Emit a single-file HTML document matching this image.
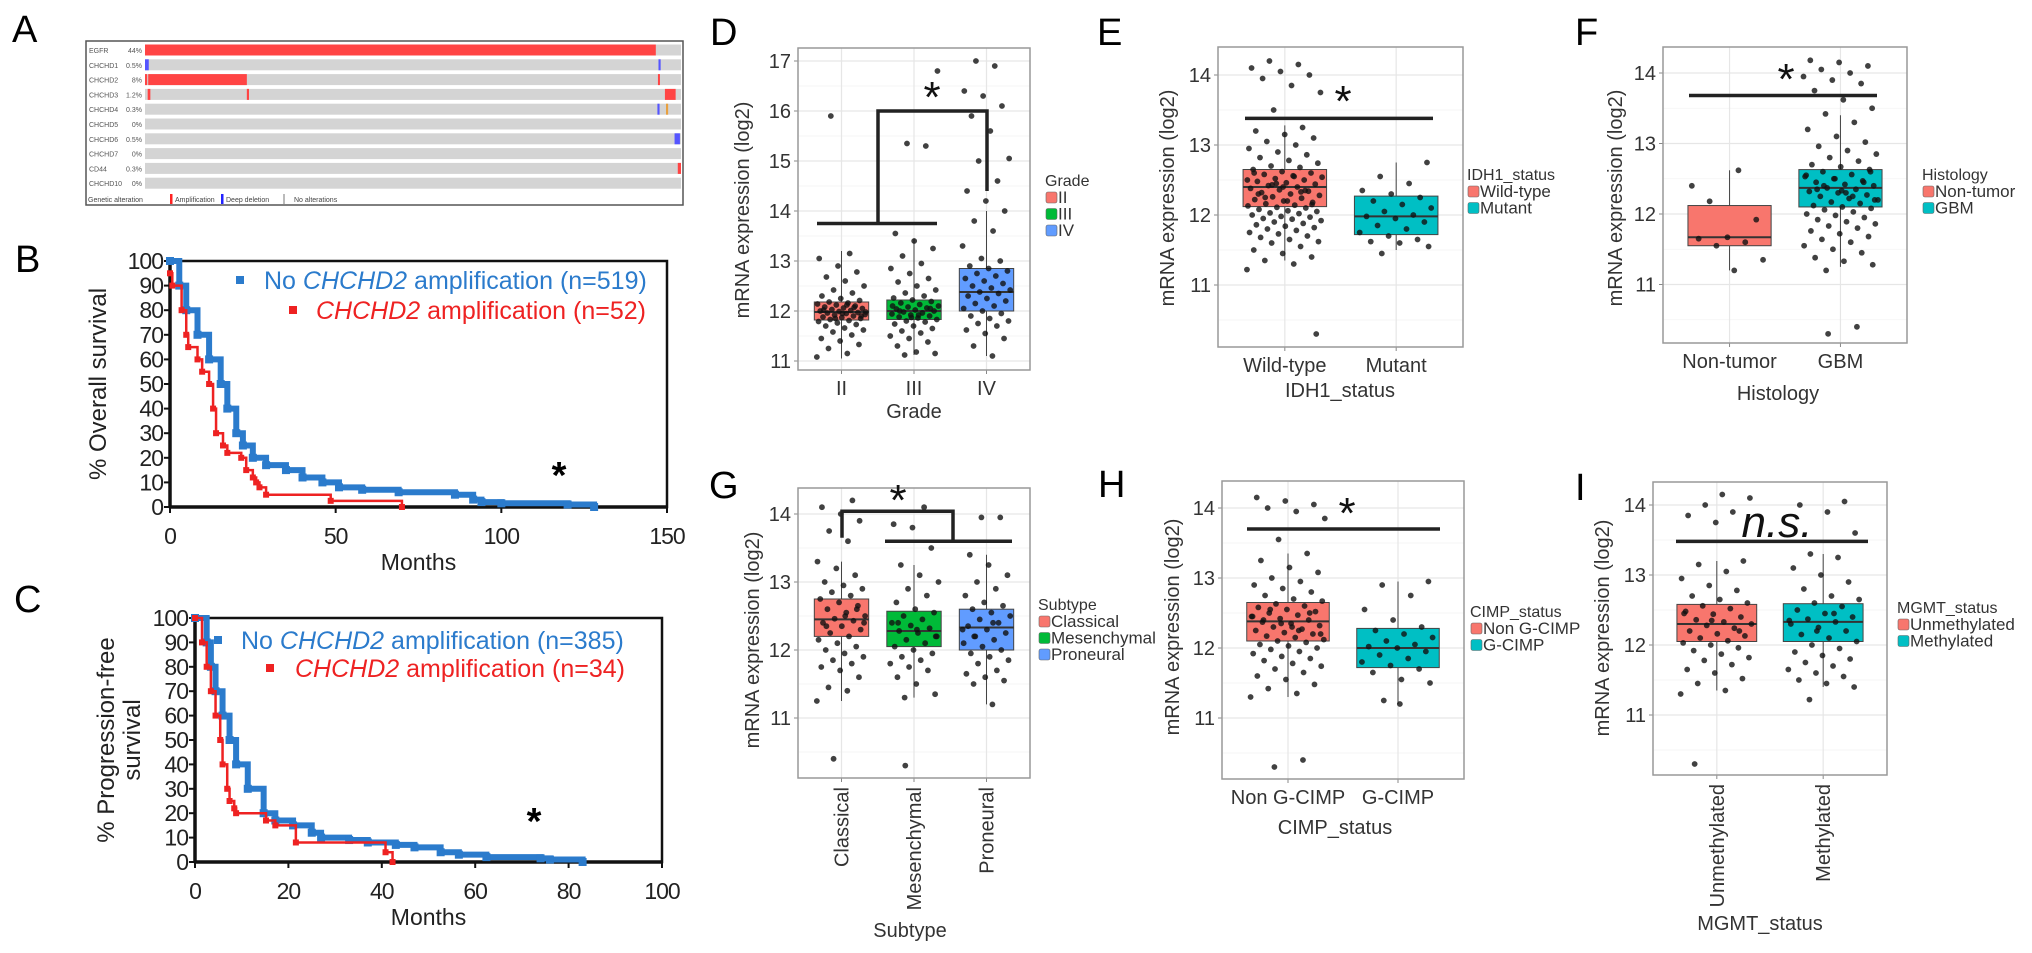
<!DOCTYPE html>
<html><head><meta charset="utf-8"><title>CHCHD2 figure</title>
<style>
html,body{margin:0;padding:0;background:#fff;}
svg{display:block;font-family:"Liberation Sans",sans-serif;}
</style></head>
<body>
<svg id="fig" width="2032" height="953" viewBox="0 0 2032 953" xmlns="http://www.w3.org/2000/svg"></svg>
<script>
// ---------- Panel A data ----------
const aGenes=['EGFR','CHCHD1','CHCHD2','CHCHD3','CHCHD4','CHCHD5','CHCHD6','CHCHD7','CD44','CHCHD10'];
const aPct=['44%','0.5%','8%','1.2%','0.3%','0%','0.5%','0%','0.3%','0%'];
const aAlt=[[[0,0.953,'amp']],[[0,0.007,'del'],[0.958,0.962,'del']],[[0,0.004,'amp'],[0.006,0.19,'amp'],[0.957,0.96,'amp']],[[0.005,0.01,'amp'],[0.19,0.194,'amp'],[0.97,0.99,'amp']],[[0.956,0.96,'del'],[0.972,0.976,'oth']],[],[[0.988,0.998,'del']],[],[[0.994,1,'amp']],[]];
// ---------- KM data ----------
const bBlueM=[0,2.8,4.9,8.3,11.8,15.3,17.3,20,22,25,29,35,40,46,51,58,69,86,91.5,94,100,120,128];
const bBlueS=[100,90,80,70,60,50,40,30,25,20,17,15,12,10,8,7,6,5,3,2,1.5,1,0];
const bRedM=[0,0.7,3.5,4.9,5.5,8.3,9.7,11.8,13,13.9,16,17.3,21.5,23,25,26,27,29,48.5,70];
const bRedS=[95,90,80,70,65,60,55,50,40,30,25,22,20,15,12,10,8,5,2.5,0];
const cBlueM=[0,2.5,3.4,4.4,5.9,7.4,8.8,11.3,14.7,17.2,21,25,27,33,37,43,47,52.6,56.5,62.4,74,76,83];
const cBlueS=[100,90,80,70,60,50,40,30,20,17,15,12,10,9,8,7,6,4,3,2,1.5,1,0];
const cRedM=[0,1.5,2.5,3.4,4.4,5.4,5.9,6.9,7.4,8.4,8.8,15.2,17.2,21.6,40.8,42.3];
const cRedS=[100,90,80,70,60,50,40,30,25,22,20,17,15,8,4,0];
const bXTicks=[0,50,100,150];
const cXTicks=[0,20,40,60,80,100];
const kmYTicks=[0,10,20,30,40,50,60,70,80,90,100];
// ---------- Boxplot data ----------
const dCats=['II','III','IV'];
const dQ1=[11.82,11.83,12.0],dMed=[11.98,12.0,12.38],dQ3=[12.18,12.22,12.85],dLo=[11.05,11.12,11.1],dHi=[13.2,13.45,14.0];
const dPts=[[11.08,11.15,11.25,11.33,11.4,11.45,11.52,11.58,11.62,11.66,11.7,11.73,11.76,11.79,11.81,11.83,11.85,11.87,11.88,11.9,11.92,11.93,11.95,11.96,11.97,11.99,12.0,12.01,12.03,12.05,12.06,12.08,12.1,12.12,12.14,12.16,12.18,12.21,12.25,12.3,12.36,12.42,12.5,12.6,12.68,12.78,12.9,13.05,13.15,15.9,11.9,11.95,12.02,12.07,11.85,11.98,12.12],
[11.12,11.15,11.18,11.3,11.38,11.45,11.5,11.56,11.6,11.65,11.7,11.74,11.78,11.8,11.83,11.86,11.88,11.9,11.92,11.94,11.96,11.98,12.0,12.02,12.04,12.06,12.08,12.1,12.13,12.16,12.19,12.22,12.26,12.3,12.36,12.42,12.5,12.58,12.65,12.75,12.85,12.95,13.1,13.25,13.4,13.55,15.3,15.35,16.8,11.92,12.0,12.05,11.87,12.1],
[11.1,11.3,11.45,11.55,11.62,11.7,11.75,11.8,11.85,11.9,11.95,12.0,12.05,12.1,12.15,12.2,12.25,12.3,12.35,12.38,12.42,12.46,12.5,12.55,12.6,12.65,12.7,12.75,12.8,12.85,12.9,13.0,13.05,13.3,13.6,13.8,14.0,14.2,14.4,14.6,15.0,15.05,15.6,15.9,16.1,16.3,16.4,16.9,17.0]];
const eCats=['Wild-type','Mutant'];
const eQ1=[12.12,11.72],eMed=[12.4,11.98],eQ3=[12.65,12.27],eLo=[11.35,11.5],eHi=[13.28,12.75];
const ePts=[[11.22,11.3,11.35,11.4,11.45,11.5,11.55,11.6,11.62,11.65,11.68,11.7,11.73,11.75,11.78,11.8,11.82,11.84,11.86,11.88,11.9,11.92,11.94,11.95,11.97,11.98,12.0,12.02,12.03,12.05,12.06,12.08,12.1,12.11,12.13,12.14,12.16,12.18,12.2,12.22,12.24,12.26,12.28,12.3,12.32,12.34,12.36,12.38,12.4,12.42,12.44,12.46,12.48,12.5,12.52,12.54,12.56,12.58,12.6,12.62,12.65,12.68,12.7,12.74,12.78,12.82,12.86,12.9,12.95,13.0,13.05,13.1,13.15,13.2,13.25,13.5,13.75,13.85,13.95,14.0,14.05,14.1,14.15,14.2,10.3,12.2,12.3,12.35,12.45,12.5,12.55,12.25,12.15,12.4,12.6,12.33,12.43],
[11.45,11.55,11.6,11.62,11.65,11.7,11.75,11.8,11.85,11.9,11.95,11.98,12.0,12.05,12.1,12.15,12.2,12.25,12.3,12.35,12.45,12.55,12.75]];
const fCats=['Non-tumor','GBM'];
const fQ1=[11.55,12.1],fMed=[11.67,12.37],fQ3=[12.12,12.63],fLo=[11.2,11.25],fHi=[12.62,13.4];
const fPts=[[12.4,12.62,12.18,11.92,11.67,11.65,11.6,11.55,11.35,11.2],
[11.2,11.28,11.33,11.38,11.45,11.5,11.55,11.6,11.64,11.68,11.72,11.76,11.8,11.83,11.86,11.89,11.92,11.95,11.98,12.0,12.03,12.06,12.08,12.1,12.12,12.15,12.17,12.2,12.22,12.25,12.27,12.3,12.32,12.35,12.37,12.4,12.42,12.45,12.47,12.5,12.53,12.56,12.6,12.63,12.67,12.7,12.75,12.8,12.85,12.9,12.96,13.02,13.1,13.2,13.3,13.42,13.5,13.62,13.75,13.85,13.9,13.95,14.0,14.05,14.1,14.15,14.18,10.4,10.3,12.2,12.3,12.35,12.45,12.5,12.55,12.25,12.4,12.6,12.33]];
const gCats=['Classical','Mesenchymal','Proneural'];
const gQ1=[12.2,12.05,12.0],gMed=[12.45,12.28,12.33],gQ3=[12.75,12.57,12.6],gLo=[11.25,11.3,11.2],gHi=[13.3,13.25,13.4];
const gPts=[[11.25,11.4,11.45,11.6,11.7,11.75,11.8,11.85,11.9,11.95,12.0,12.05,12.1,12.15,12.2,12.25,12.3,12.35,12.4,12.43,12.46,12.5,12.55,12.6,12.65,12.7,12.75,12.8,12.85,12.9,12.95,13.0,13.1,13.2,13.3,13.6,13.75,13.9,14.0,14.1,14.2,10.4,12.4,12.5,12.35,12.6],
[11.3,11.35,11.5,11.6,11.7,11.75,11.8,11.85,11.9,11.95,12.0,12.05,12.1,12.15,12.2,12.25,12.28,12.32,12.36,12.4,12.45,12.5,12.55,12.6,12.7,12.8,12.9,13.0,13.1,13.25,13.5,13.8,13.85,14.1,10.3,12.2,12.3,12.4],
[11.2,11.5,11.55,11.6,11.65,11.7,11.8,11.85,11.9,11.95,12.0,12.05,12.1,12.15,12.2,12.25,12.3,12.35,12.4,12.45,12.5,12.55,12.6,12.65,12.7,12.8,12.9,13.0,13.1,13.25,13.4,13.95,13.95,12.3,12.4,12.2]];
const hCats=['Non G-CIMP','G-CIMP'];
const hQ1=[12.1,11.72],hMed=[12.38,12.0],hQ3=[12.65,12.28],hLo=[11.3,11.2],hHi=[13.35,12.95];
const hPts=[[11.3,11.35,11.42,11.48,11.55,11.6,11.65,11.7,11.74,11.78,11.82,11.85,11.88,11.92,11.95,11.98,12.0,12.03,12.05,12.08,12.1,12.12,12.15,12.17,12.2,12.22,12.25,12.27,12.3,12.32,12.35,12.37,12.4,12.42,12.45,12.47,12.5,12.52,12.55,12.58,12.6,12.63,12.67,12.7,12.75,12.8,12.85,12.9,12.95,13.0,13.08,13.15,13.25,13.35,13.55,13.85,13.95,14.0,14.05,14.1,14.15,10.4,10.3,12.2,12.3,12.4,12.5,12.35,12.45,12.25,12.55],
[11.25,11.5,11.55,11.65,11.7,11.75,11.8,11.85,11.9,11.95,12.0,12.02,12.05,12.1,12.15,12.2,12.25,12.3,12.4,12.55,12.75,12.9,12.95,11.2]];
const iCats=['Unmethylated','Methylated'];
const iQ1=[12.05,12.05],iMed=[12.3,12.33],iQ3=[12.58,12.59],iLo=[11.35,11.4],iHi=[13.2,13.3];
const iPts=[[11.3,11.35,11.45,11.52,11.6,11.65,11.72,11.78,11.82,11.87,11.92,11.96,12.0,12.03,12.06,12.1,12.13,12.16,12.2,12.24,12.28,12.3,12.33,12.36,12.4,12.44,12.48,12.52,12.56,12.6,12.65,12.7,12.78,12.85,12.95,13.05,13.15,13.2,13.75,13.85,13.9,14.0,14.1,14.15,10.3,12.2,12.35,12.45],
[11.22,11.4,11.45,11.5,11.55,11.6,11.65,11.7,11.75,11.8,11.85,11.9,11.95,12.0,12.05,12.1,12.15,12.2,12.25,12.3,12.33,12.37,12.4,12.45,12.5,12.55,12.6,12.65,12.7,12.8,12.9,13.0,13.1,13.25,13.3,13.6,13.9,14.0,14.05,12.2,12.35,12.45]];

const NS='http://www.w3.org/2000/svg';
const svg=document.getElementById('fig');
function mk(tag,attrs,parent){const e=document.createElementNS(NS,tag);for(const k in attrs)e.setAttribute(k,attrs[k]);(parent||svg).appendChild(e);return e;}
function txt(x,y,s,attrs,parent){const e=mk('text',Object.assign({x:x,y:y},attrs||{}),parent);e.textContent=s;return e;}

// panel letters
const letters=[['A',12,42],['B',15,272],['C',14,612],['D',710,45],['E',1097,45],['F',1575,45],['G',709,498],['H',1098,497],['I',1575,500]];
letters.forEach(L=>{const t=txt(L[1],L[2],L[0],{'font-size':38,fill:'#000'});

});

// ---------- Panel A ----------
(function(){
 const g=mk('g',{});
 
 
 const frame=mk('rect',{x:86,y:41,width:597,height:164,fill:'#fff',stroke:'#555','stroke-width':1.5},g);
 
 
 const x0=145,x1=681,w=x1-x0;
 aGenes.forEach((gname,i)=>{
  const yc=50+i*14.8;
  const row=mk('rect',{x:x0,y:yc-5.5,width:w,height:11,fill:'#d4d4d4'},g);
  
  
  const lab=txt(89,yc+3,gname,{'font-size':7,fill:'#555'},g);
  
  
  const pc=txt(142,yc+3,aPct[i],{'font-size':7,fill:'#555','text-anchor':'end'},g);
  
  
  aAlt[i].forEach(a=>{
   const col=a[2]==='amp'?'#f44':(a[2]==='del'?'#55f':'#e8a040');
   const r=mk('rect',{x:x0+a[0]*w,y:yc-5.5,width:Math.max(2,(a[1]-a[0])*w),height:11,fill:col},g);
   
   
  });
 });
 const ly=202;
 const lg=mk('g',{},g);
 
 
 txt(88,ly,'Genetic alteration',{'font-size':7,fill:'#444'},lg);
 mk('rect',{x:170,y:ly-8,width:2.5,height:10,fill:'#f22'},lg);
 txt(175,ly,'Amplification',{'font-size':7,fill:'#444'},lg);
 mk('rect',{x:221,y:ly-8,width:2.5,height:10,fill:'#22f'},lg);
 txt(226,ly,'Deep deletion',{'font-size':7,fill:'#444'},lg);
 mk('rect',{x:283,y:ly-8,width:2,height:10,fill:'#bbb'},lg);
 txt(294,ly,'No alterations',{'font-size':7,fill:'#444'},lg);
})();

// ---------- KM plots ----------
function km(cfg){
 const g=mk('g',{});
 
 
 const X=m=>cfg.l+(m-cfg.xmin)/(cfg.xmax-cfg.xmin)*(cfg.r-cfg.l);
 const Y=s=>cfg.b-s/100*(cfg.b-cfg.t);
 const box=mk('rect',{x:cfg.l,y:cfg.t,width:cfg.r-cfg.l,height:cfg.b-cfg.t,fill:'none',stroke:'#111','stroke-width':2.5},g);
 
 
 mk('line',{x1:cfg.l,y1:cfg.t,x2:cfg.l,y2:cfg.b,stroke:'#111','stroke-width':3.5},g);
 mk('line',{x1:cfg.l,y1:cfg.b,x2:cfg.r,y2:cfg.b,stroke:'#111','stroke-width':3.5},g);
 kmYTicks.forEach(v=>{
  mk('line',{x1:cfg.l-6,y1:Y(v),x2:cfg.l,y2:Y(v),stroke:'#111','stroke-width':2},g);
  const t=txt(cfg.l-7,Y(v)+8,String(v),{'font-size':23,'text-anchor':'end',fill:'#222','letter-spacing':-1},g);
  
  
 });
 cfg.xt.forEach(v=>{
  mk('line',{x1:X(v),y1:cfg.b,x2:X(v),y2:cfg.b+6,stroke:'#111','stroke-width':2},g);
  const t=txt(X(v),cfg.b+37,String(v),{'font-size':23,'text-anchor':'middle',fill:'#222','letter-spacing':-1},g);
  
  
 });
 const xt=txt((cfg.l+cfg.r)/2,cfg.b+63,'Months',{'font-size':23,'text-anchor':'middle',fill:'#222'},g);
 
 
 cfg.ytitle.forEach((s,k)=>{
  const yt=txt(0,0,s,{'font-size':24,'text-anchor':'middle',fill:'#222',transform:`translate(${cfg.ytx[k]},${(cfg.t+cfg.b)/2}) rotate(-90)`},g);
  
  
 });
 function curve(M,S,col,w,name,marks){
  let d=`M${X(M[0])},${Y(S[0])}`;
  for(let i=1;i<M.length;i++){d+=`H${X(M[i])}V${Y(S[i])}`;}
  const p=mk('path',{d:d,fill:'none',stroke:col,'stroke-width':w,'stroke-linejoin':'miter'},g);
  
  
  for(let i=0;i<M.length;i++){
   const q=mk('rect',{x:X(M[i])-marks/2,y:Y(S[i])-marks/2,width:marks,height:marks,fill:col},g);
   
   
  }
 }
 curve(cfg.bm,cfg.bs,'#2b7bcc',6,'no-amplification-curve',8);
 curve(cfg.rm,cfg.rs,'#ee2222',2.5,'amplification-curve',6);
 const l1=mk('g',{},g);
 
 
 mk('rect',{x:cfg.lg[0]-4,y:cfg.lg[1]-4,width:8,height:8,fill:'#2b7bcc'},l1);
 const t1=txt(cfg.lg[2],cfg.lg[1]+9,'',{'font-size':25,fill:'#2b7bcc'},l1);
 t1.innerHTML='No <tspan font-style="italic">CHCHD2</tspan> amplification (n='+cfg.n1+')';
 const l2=mk('g',{},g);
 
 
 mk('rect',{x:cfg.lg[3]-4,y:cfg.lg[4]-4,width:8,height:8,fill:'#ee2222'},l2);
 const t2=txt(cfg.lg[5],cfg.lg[4]+9,'',{'font-size':25,fill:'#ee2222'},l2);
 t2.innerHTML='<tspan font-style="italic">CHCHD2</tspan> amplification (n='+cfg.n2+')';
 const st=txt(cfg.star[0],cfg.star[1],'*',{'font-size':38,'text-anchor':'middle',fill:'#000','font-weight':'bold'},g);
 
 
}
km({name:'overall-survival-chart',l:170,r:667,t:261,b:507,xmin:0,xmax:150,xt:bXTicks,bm:bBlueM,bs:bBlueS,rm:bRedM,rs:bRedS,ytitle:['% Overall survival'],ytx:[106],lg:[240,280,264,293,310,316],n1:519,n2:52,star:[559,488]});
km({name:'progression-free-survival-chart',l:195,r:662,t:618,b:862,xmin:0,xmax:100,xt:cXTicks,bm:cBlueM,bs:cBlueS,rm:cRedM,rs:cRedS,ytitle:['% Progression-free','survival'],ytx:[114,140],lg:[218,640,241,270,668,295],n1:385,n2:34,star:[534,834]});

// ---------- Boxplots ----------
function boxplot(c){
 const g=mk('g',{});
 
 
 const n=c.cats.length, unit=(c.r-c.l)/(n-1+1.2);
 const X=i=>c.l+(0.6+i)*unit;
 const Y=v=>c.y0-(v-c.v0)*c.ppu;
 mk('rect',{x:c.l,y:c.t,width:c.r-c.l,height:c.b-c.t,fill:'#fff'},g);
 const vmin=c.v0-(c.b-c.y0)/c.ppu, vmax=c.v0+(c.y0-c.t)/c.ppu;
 for(let v=Math.ceil(vmin*2)/2;v<=vmax;v+=0.5){
  const major=Math.abs(v-Math.round(v))<1e-6;
  mk('line',{x1:c.l,y1:Y(v),x2:c.r,y2:Y(v),stroke:major?'#e6e6e6':'#f3f3f3','stroke-width':major?1.2:0.8},g);
  if(major){
   mk('line',{x1:c.l-4,y1:Y(v),x2:c.l,y2:Y(v),stroke:'#888','stroke-width':1},g);
   const t=txt(c.l-7,Y(v)+7,String(Math.round(v)),{'font-size':20,'text-anchor':'end',fill:'#333'},g);
   
   
  }
 }
 c.cats.forEach((cat,i)=>{
  mk('line',{x1:X(i),y1:c.t,x2:X(i),y2:c.b,stroke:'#e6e6e6','stroke-width':1.2},g);
  mk('line',{x1:X(i),y1:c.b,x2:X(i),y2:c.b+4,stroke:'#888','stroke-width':1},g);
  let t;
  if(c.rot){t=txt(0,0,cat,{'font-size':20,'text-anchor':'end',fill:'#333',transform:`translate(${X(i)+7},${c.b+9}) rotate(-90)`},g);}
  else t=txt(X(i),c.b+25,cat,{'font-size':20,'text-anchor':'middle',fill:'#333'},g);
  
  
 });
 c.cats.forEach((cat,i)=>{
  const bw=0.75*unit, x=X(i);
  const wl=mk('line',{x1:x,y1:Y(c.lo[i]),x2:x,y2:Y(c.hi[i]),stroke:'#444','stroke-width':1},g);
  
  
  const b=mk('rect',{x:x-bw/2,y:Y(c.q3[i]),width:bw,height:Y(c.q1[i])-Y(c.q3[i]),fill:c.cols[i],stroke:'#444','stroke-width':1},g);
  
  
  const m=mk('line',{x1:x-bw/2,y1:Y(c.med[i]),x2:x+bw/2,y2:Y(c.med[i]),stroke:'#333','stroke-width':2},g);
  
  
 });
 c.cats.forEach((cat,i)=>{
  const jw=0.34*unit;
  c.pts[i].forEach((v,k)=>{
   const off=(((k*0.618034+i*0.31)%1)-0.5)*2*jw;
   const p=mk('circle',{cx:X(i)+off,cy:Y(v),r:2.9,fill:'#111','fill-opacity':0.8},g);
   
   
  });
 });
 const fr=mk('rect',{x:c.l,y:c.t,width:c.r-c.l,height:c.b-c.t,fill:'none',stroke:'#999','stroke-width':1.5},g);
 
 
 c.sig.forEach(s=>{
  const l=mk('path',{d:s.d(X,Y),fill:'none',stroke:'#222','stroke-width':3.5},g);
  
  
 });
 const st=txt(c.star[0],c.star[1],c.starText,{'font-size':c.starSize,'text-anchor':'middle',fill:'#111','font-style':c.starItalic?'italic':'normal'},g);
 
 
 const yt=txt(0,0,'mRNA expression (log2)',{'font-size':20,'text-anchor':'middle',fill:'#333',transform:`translate(${c.ytx},${c.yty}) rotate(-90)`},g);
 
 
 const xt=txt(c.xtx,c.xty,c.xtitle,{'font-size':20,'text-anchor':'middle',fill:'#333'},g);
 
 
 const lg=mk('g',{},g);
 
 
 txt(c.lg[0],c.lg[1],c.xtitle,{'font-size':16,fill:'#333'},lg);
 c.cats.forEach((cat,i)=>{
  const yy=c.lg[1]+17+i*16.5;
  const e=mk('g',{},lg);
  
  
  mk('rect',{x:c.lg[0]+1,y:yy-11,width:11,height:11,rx:2,fill:c.cols[i],stroke:'#666','stroke-width':0.6},e);
  txt(c.lg[0]+13,yy,cat,{'font-size':17,fill:'#333'},e);
 });
}
const RED='#F8766D',GRN='#00BA38',BLU='#619CFF',TEAL='#00BFC4';
const hline=(a,b,v)=>(X,Y)=>`M${a},${Y(v)}H${b}`;
boxplot({name:'grade-boxplot',cats:dCats,q1:dQ1,med:dMed,q3:dQ3,lo:dLo,hi:dHi,pts:dPts,cols:[RED,GRN,BLU],
 l:798,r:1030,t:48,b:370,v0:12,y0:311,ppu:50,ytx:749,yty:210,xtitle:'Grade',xtx:914,xty:418,lg:[1045,186],
 sig:[{d:(X,Y)=>`M817,${Y(13.75)}H937M878,${Y(13.75)}V${Y(16)}H987V${Y(14.4)}`}],star:[932,112],starText:'*',starSize:44});
boxplot({name:'idh1-boxplot',cats:eCats,q1:eQ1,med:eMed,q3:eQ3,lo:eLo,hi:eHi,pts:ePts,cols:[RED,TEAL],
 l:1218,r:1463,t:47,b:347,v0:12,y0:215,ppu:70,ytx:1174,yty:198,xtitle:'IDH1_status',xtx:1340,xty:397,lg:[1467,180],
 sig:[{d:hline(1245,1433,13.38)}],star:[1343,116],starText:'*',starSize:44});
boxplot({name:'histology-boxplot',cats:fCats,q1:fQ1,med:fMed,q3:fQ3,lo:fLo,hi:fHi,pts:fPts,cols:[RED,TEAL],
 l:1663,r:1907,t:47,b:343,v0:12,y0:214,ppu:70.5,ytx:1622,yty:198,xtitle:'Histology',xtx:1778,xty:400,lg:[1922,180],
 sig:[{d:hline(1689,1877,13.68)}],star:[1786,94],starText:'*',starSize:44});
boxplot({name:'subtype-boxplot',cats:gCats,q1:gQ1,med:gMed,q3:gQ3,lo:gLo,hi:gHi,pts:gPts,cols:[RED,GRN,BLU],rot:true,
 l:798,r:1030,t:488,b:778,v0:12,y0:650,ppu:68,ytx:759,yty:640,xtitle:'Subtype',xtx:910,xty:937,lg:[1038,610],
 sig:[{d:(X,Y)=>`M842,${Y(13.65)}V${Y(14.04)}H953V${Y(13.6)}M885,${Y(13.6)}H1012`}],star:[898,515],starText:'*',starSize:44});
boxplot({name:'cimp-boxplot',cats:hCats,q1:hQ1,med:hMed,q3:hQ3,lo:hLo,hi:hHi,pts:hPts,cols:[RED,TEAL],
 l:1222,r:1464,t:481,b:779,v0:12,y0:648,ppu:70,ytx:1179,yty:627,xtitle:'CIMP_status',xtx:1335,xty:834,lg:[1470,617],
 sig:[{d:hline(1247,1440,13.7)}],star:[1347,528],starText:'*',starSize:44});
boxplot({name:'mgmt-boxplot',cats:iCats,q1:iQ1,med:iMed,q3:iQ3,lo:iLo,hi:iHi,pts:iPts,cols:[RED,TEAL],rot:true,
 l:1653,r:1887,t:482,b:775,v0:12,y0:645,ppu:70,ytx:1609,yty:628,xtitle:'MGMT_status',xtx:1760,xty:930,lg:[1897,613],
 sig:[{d:hline(1676,1868,13.48)}],star:[1777,537],starText:'n.s.',starSize:44,starItalic:true});
</script>
</body></html>
